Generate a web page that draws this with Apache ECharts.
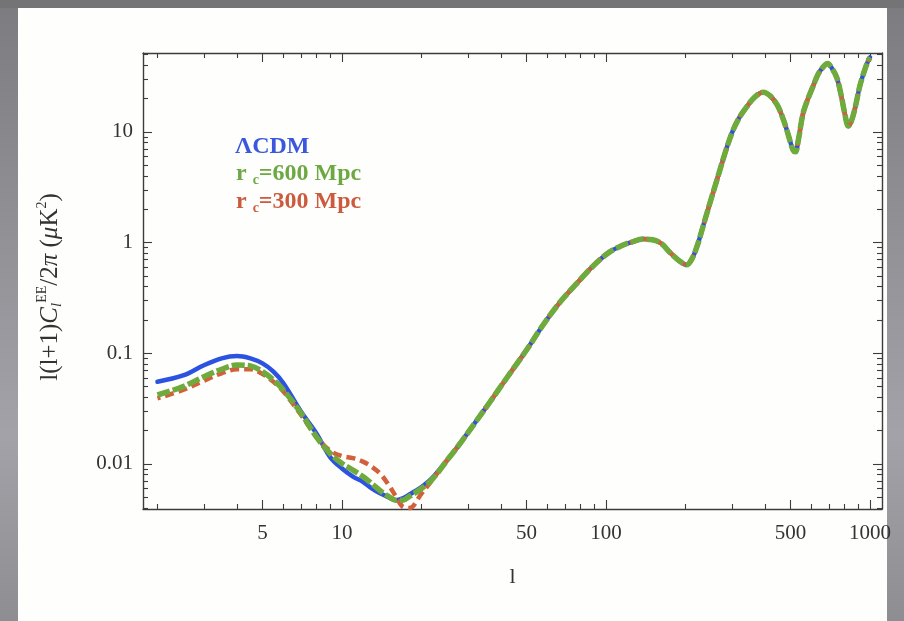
<!DOCTYPE html>
<html><head><meta charset="utf-8">
<script src="https://cdn.jsdelivr.net/npm/echarts@6/dist/echarts.min.js"></script>
<style>html,body{margin:0;padding:0;background:#fff}#c{width:904px;height:621px}</style>
</head><body><div id="c"></div>
<script>
// ---- data ----
const lowEll   = [2, 2.5, 3, 3.5, 4, 4.5, 5, 5.5, 6, 7, 8, 9, 10, 11, 12, 13, 14, 15, 16, 17, 18, 20, 22];
const cdmLow   = [0.0553, 0.063, 0.078, 0.090, 0.0945, 0.090, 0.081, 0.0683, 0.0536, 0.0296, 0.0189, 0.0116, 0.0091, 0.0077, 0.0069, 0.0060, 0.0054, 0.0050, 0.0047, 0.0049, 0.0053, 0.0062, 0.0075];
const rc600Low = [0.042, 0.050, 0.0615, 0.0717, 0.0784, 0.0770, 0.0683, 0.0574, 0.0466, 0.0287, 0.0176, 0.0125, 0.0101, 0.0088, 0.0077, 0.0066, 0.0057, 0.0051, 0.0047, 0.0047, 0.0051, 0.0060, 0.0073];
const rc300Low = [0.0392, 0.0466, 0.0565, 0.066, 0.0717, 0.0717, 0.065, 0.0553, 0.045, 0.0277, 0.0176, 0.0132, 0.0118, 0.0113, 0.0105, 0.0094, 0.0081, 0.0065, 0.0051, 0.0041, 0.0040, 0.0054, 0.0072];
const highEll  = [25, 28, 32, 36, 42, 50, 58, 67, 78, 90, 103, 115, 125, 138, 150, 162, 175, 190, 202, 212, 222, 232, 245, 265, 285, 302, 320, 341, 365, 394, 420, 445, 465, 484, 500, 512, 522, 535, 557, 580, 607, 635, 664, 690, 715, 748, 780, 801, 828, 850, 877, 915, 950, 980, 1000];
const sharedHigh = [0.0108, 0.0153, 0.0238, 0.0352, 0.0595, 0.107, 0.183, 0.29, 0.435, 0.625, 0.82, 0.94, 1.01, 1.075, 1.06, 0.98, 0.81, 0.68, 0.63, 0.72, 0.95, 1.35, 2.1, 3.9, 6.9, 10.2, 13.5, 16.8, 20.5, 22.8, 21, 17.5, 13.8, 10.4, 8.0, 6.8, 6.6, 8.4, 14.5, 19.5, 25.5, 33, 38.5, 41.5, 38, 31, 20.6, 14.9, 11.3, 12.5, 16.3, 26, 35, 43, 47];

const xMajorTicks = [5, 10, 50, 100, 500, 1000];
const xMinorTicks = [2, 3, 4, 6, 7, 8, 9, 20, 30, 40, 60, 70, 80, 90, 200, 300, 400, 600, 700, 800, 900];
const yMajorTicks = [0.01, 0.1, 1, 10];
const yMinorTicks = [0.004, 0.005, 0.006, 0.007, 0.008, 0.009, 0.02, 0.03, 0.04, 0.05, 0.06, 0.07, 0.08, 0.09,
                     0.2, 0.3, 0.4, 0.5, 0.6, 0.7, 0.8, 0.9, 2, 3, 4, 5, 6, 7, 8, 9, 20, 30, 40, 50];

const seriesNames = ['ΛCDM', 'r c=600 Mpc', 'r c=300 Mpc'];

// ---- build ----
const pairs = (xs, ys) => xs.map((x, i) => [x, ys[i]]);
const cdmData   = pairs(lowEll, cdmLow).concat(pairs(highEll, sharedHigh));
const rc600Data = pairs(lowEll, rc600Low).concat(pairs(highEll, sharedHigh));
const rc300Data = pairs(lowEll, rc300Low).concat(pairs(highEll, sharedHigh));

const X_MIN = 1.763, X_MAX = 1110, Y_MIN = 0.00392, Y_MAX = 51.6;
const FRAME = '#3c3c3c';
const SERIF = '"Liberation Serif", "DejaVu Serif", serif';

function axis(kind, position, ticks, len, showLine, showLabels) {
  const isX = kind === 'x';
  return {
    type: 'log', logBase: 10, position,
    min: isX ? X_MIN : Y_MIN, max: isX ? X_MAX : Y_MAX,
    axisLine: { show: showLine, lineStyle: { color: FRAME, width: 1.4 } },
    axisTick: { show: true, inside: true, length: len, customValues: ticks, lineStyle: { color: FRAME, width: 1.1 } },
    axisLabel: showLabels ? {
      show: true, customValues: ticks, formatter: v => String(v),
      fontFamily: SERIF, fontSize: 21, color: '#333', margin: isX ? 14 : 10
    } : { show: false },
    splitLine: { show: false }, minorTick: { show: false }, minorSplitLine: { show: false }
  };
}

const chart = echarts.init(document.getElementById('c'), null, { renderer: 'canvas' });
chart.setOption({
  animation: false,
  backgroundColor: '#8e8e92',
  grid: { left: 143, right: 22, top: 53, bottom: 112, containLabel: false },
  xAxis: [
    Object.assign(axis('x', 'bottom', xMajorTicks, 9, true, true), {
      name: 'l', nameLocation: 'middle', nameGap: 57,
      nameTextStyle: { fontFamily: SERIF, fontSize: 22, color: '#333' }
    }),
    axis('x', 'bottom', xMinorTicks, 5, false, false),
    axis('x', 'top', xMajorTicks, 9, true, false),
    axis('x', 'top', xMinorTicks, 5, false, false)
  ],
  yAxis: [
    axis('y', 'left', yMajorTicks, 9, true, true),
    axis('y', 'left', yMinorTicks, 5, false, false),
    axis('y', 'right', yMajorTicks, 9, true, false),
    axis('y', 'right', yMinorTicks, 5, false, false)
  ],
  graphic: [
    { type: 'rect', z: -20, silent: true, shape: { x: 0, y: 0, width: 904, height: 621 },
      style: { fill: new echarts.graphic.LinearGradient(0, 0, 0, 1, [
        { offset: 0, color: '#7c7c80' }, { offset: 0.7, color: '#a2a2a8' }, { offset: 1, color: '#8e8e92' }]) } },
    { type: 'rect', z: -20, silent: true, shape: { x: 0, y: 0, width: 904, height: 8 }, style: { fill: '#747476' } },
    { type: 'rect', z: -19, silent: true, shape: { x: 18, y: 8, width: 869, height: 613 }, style: { fill: '#fefefd' } },
    { type: 'text', z: 10, left: 235, top: 135,
      style: { text: seriesNames[0], font: 'bold 24px ' + SERIF, fill: '#3a58dc' } },
    { type: 'text', z: 10, left: 236, top: 162,
      style: { text: '{n|r }{s|c}{n|=600 Mpc}', fill: '#6ea843',
        rich: { n: { font: 'bold 24px ' + SERIF, fill: '#6ea843', lineHeight: 26 },
                s: { font: 'bold 14px ' + SERIF, fill: '#6ea843', verticalAlign: 'bottom', lineHeight: 14 } } } },
    { type: 'text', z: 10, left: 236, top: 190,
      style: { text: '{n|r }{s|c}{n|=300 Mpc}', fill: '#cc5b3e',
        rich: { n: { font: 'bold 24px ' + SERIF, fill: '#cc5b3e', lineHeight: 26 },
                s: { font: 'bold 14px ' + SERIF, fill: '#cc5b3e', verticalAlign: 'bottom', lineHeight: 14 } } } },
    { type: 'text', z: 10, x: 50, y: 287, rotation: Math.PI / 2,
      style: { text: '{n|l(l+1)}{i|C}{sb|l}{sp|EE}{n|/2}{i|π}{n| (}{i|μ}{n|K}{sp|2}{n|)}',
        align: 'center', verticalAlign: 'middle',
        rich: {
          n: { fontFamily: SERIF, fontSize: 25, fill: '#333', lineHeight: 30 },
          i: { fontFamily: SERIF, fontSize: 25, fontStyle: 'italic', fill: '#333', lineHeight: 30 },
          sb: { fontFamily: SERIF, fontSize: 15, fontStyle: 'italic', fill: '#333', verticalAlign: 'bottom', lineHeight: 15 },
          sp: { fontFamily: SERIF, fontSize: 14, fill: '#333', verticalAlign: 'top', lineHeight: 14 }
        } } }
  ],
  series: [
    { name: seriesNames[0], type: 'line', xAxisIndex: 0, yAxisIndex: 0, data: cdmData,
      showSymbol: false, smooth: 0.35, z: 3,
      lineStyle: { color: '#2c52e2', width: 4.5, cap: 'round' } },
    { name: seriesNames[2], type: 'line', xAxisIndex: 0, yAxisIndex: 0, data: rc300Data,
      showSymbol: false, smooth: 0.35, z: 4,
      lineStyle: { color: '#d2603a', width: 4.5, type: [9, 5], dashOffset: 6 } },
    { name: seriesNames[1], type: 'line', xAxisIndex: 0, yAxisIndex: 0, data: rc600Data,
      showSymbol: false, smooth: 0.35, z: 5,
      lineStyle: { color: '#6faa3c', width: 5.5, type: [13, 3] } }
  ]
});
</script></body></html>
